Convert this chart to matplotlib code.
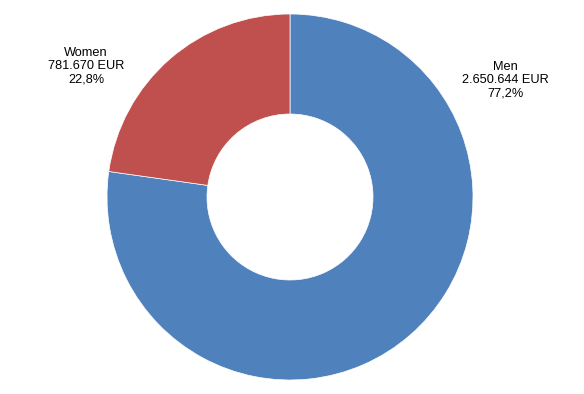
import matplotlib.pyplot as plt

labels = ["Men", "Women"]
amounts = [2650644, 781670]
amount_text = ["2.650.644 EUR", "781.670 EUR"]
pct_text = ["77,2%", "22,8%"]
colors = ["#4F81BD", "#C0504D"]

plt.rcParams['font.family'] = ['Liberation Sans', 'DejaVu Sans']

fig = plt.figure(figsize=(5.84, 3.94), dpi=100)
ax = fig.add_axes([0, 0, 1, 1])

ax.pie(amounts, colors=colors, startangle=90, counterclock=False,
       center=(290, 197), radius=183,
       wedgeprops=dict(width=100, edgecolor='white', linewidth=0.5))

# pie() resets the limits, so set pixel-like limits afterwards
ax.set_xlim(0, 584)
ax.set_ylim(0, 394)
ax.set_aspect('equal')
ax.axis('off')

# label positions (pixel coords from the top-left)
label_pos = [(505, 80), (86, 66)]
for i in range(len(labels)):
    x, y = label_pos[i]
    ax.text(x, 394 - y, labels[i] + "\n" + amount_text[i] + "\n" + pct_text[i],
            ha='center', va='center', fontsize=9.2, linespacing=1.15)

fig.savefig("out.png", dpi=100)
